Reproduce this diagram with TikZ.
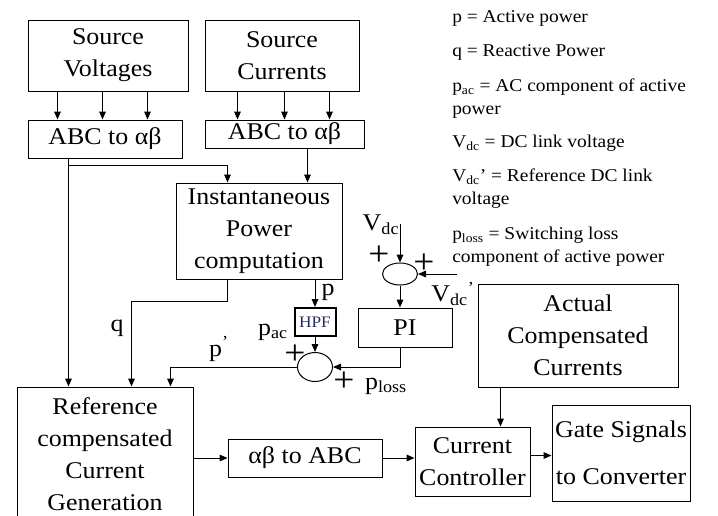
\documentclass[tikz,border=0pt]{standalone}
\usepackage{fontspec}
\setmainfont{Liberation Serif}[FakeStretch=1.08]
\usetikzlibrary{arrows.meta,calc,shapes.geometric}

\newcommand{\blkfont}{\fontsize{18}{24}\selectfont}
\newcommand{\keyfont}{\fontsize{13.5}{17.25}\selectfont}
\newcommand{\pmfont}{\fontsize{26}{26}\selectfont}
\definecolor{hpfblue}{RGB}{35,45,95}

\begin{document}
\begin{tikzpicture}[x=0.75pt,y=-0.75pt,
  blk/.style={draw,line width=0.75pt,inner sep=0pt,align=center,font=\blkfont},
  sum/.style={draw,ellipse,line width=0.75pt,inner sep=0pt},
  sig/.style={-{Triangle[length=6pt,width=5pt]},line width=0.75pt},
  lbl/.style={inner sep=0pt,font=\blkfont},
  pm/.style={inner sep=0pt,font=\pmfont},
  key/.style={anchor=west,inner sep=0pt,align=left,font=\keyfont}]
\useasboundingbox (0,0) rectangle (718,515);

% blocks
\node[blk,minimum width=120pt,minimum height=53.25pt] (srcv) at (108,55.5) {Source\\Voltages};
\node[blk,minimum width=115.5pt,minimum height=53.25pt] (srcc) at (282,55.5) {Source\\Currents};
\node[blk,minimum width=115.5pt,minimum height=28.5pt] (abcv) at (105,139) {ABC to αβ};
\node[blk,minimum width=119.25pt,minimum height=21pt] (abcc) at (284.5,134) {ABC to αβ};
\node[blk,minimum width=124.5pt,minimum height=72pt] (inst) at (259,231) {Instantaneous\\Power\\computation};
\node[blk,line width=1.5pt,minimum width=30.75pt,minimum height=21pt,font=\fontsize{12}{12}\selectfont,text=hpfblue] (hpf) at (315,322) {HPF};
\node[sum,minimum width=26.25pt,minimum height=21.75pt] (sum1) at (315,367) {};
\node[sum,minimum width=26.25pt,minimum height=16.5pt] (sum2) at (400,274) {};
\node[blk,minimum width=70.5pt,minimum height=29.25pt] (pi) at (405,327.5) {PI};
\node[blk,minimum width=132pt,minimum height=101.25pt] (ref) at (105,454.5) {Reference\\compensated\\Current\\Generation};
\node[blk,minimum width=115.5pt,minimum height=28.5pt] (ab2abc) at (305,458) {αβ to ABC};
\node[blk,minimum width=86.25pt,minimum height=51.75pt] (cc) at (472.5,461.5) {Current\\Controller};
\node[blk,minimum width=103.5pt,minimum height=72pt] (gate) at (621,453) {Gate Signals\\[11pt]to Converter};
\node[blk,minimum width=150pt,minimum height=77.25pt] (acc) at (578,335.5) {Actual\\Compensated\\Currents};

\coordinate (vdct) at (400,224);
\coordinate (vdcr) at (457,274);

% three phase lines
\foreach \dx in {30,75,120}
  \draw[sig] ($(srcv.south west)+(\dx,0)$) -- ($(abcv.north west)+(\dx,0)$);
\foreach \dx in {33,80,125}
  \draw[sig] ($(srcc.south west)+(\dx,0)$) -- ($(abcc.north west)+(\dx,0)$);

\draw[sig] ($(abcv.south west)+(41,0)$) -- ($(ref.north west)+(52,0)$);
\draw[sig] ($(abcv.south west)+(41,7)$) -| ($(inst.north west)+(52,0)$);
\draw[sig] ($(abcc.south west)+(103,0)$) -- ($(inst.north west)+(132,0)$);
\draw[sig] ($(inst.south west)+(52,0)$) |- ($(ref.north west)+(115,-85)$) -- ($(ref.north west)+(115,0)$);
\draw[sig] (inst.south -| hpf.north) -- (hpf.north);
\draw[sig] (hpf.south) -- (sum1.north);
\draw[sig] (sum1.west) -| ($(ref.north west)+(154,0)$);
\draw[sig] (vdct) -- (sum2.north);
\draw[sig] (vdcr) -- (sum2.east);
\draw[sig] (sum2.south) -- (sum2.south |- pi.north);
\draw[sig] (pi.south -| sum2.south) |- (sum1.east);
\draw[sig] (ref.east |- ab2abc.west) -- (ab2abc.west);
\draw[sig] (ab2abc.east) -- (ab2abc.east -| cc.west);
\draw[sig] ([yshift=4.5pt]cc.east) -- ([yshift=4.5pt]cc.east -| gate.west);
\draw[sig] ($(acc.south west)+(23,0)$) -- ($(cc.north west)+(86,0)$);

% signal labels
\node[lbl] (q) at (117,328) {q};
\node[lbl] (p) at (328,292) {p};
\node[lbl] (pdash) at (219,349) {p\textsuperscript{’}};
\node[lbl] (pac) at (273,332) {p\textsubscript{ac}};
\node[lbl] (ploss) at (386,386) {p\textsubscript{loss}};
\node[lbl] (vdc) at (381,225) {V\textsubscript{dc}};
\node[lbl] (vdcref) at (453,294) {V\textsubscript{dc}\textsuperscript{’}};
\node[pm] (pm1) at (295,355) {+};
\node[pm] (pm2) at (344,382) {+};
\node[pm] (pm3) at (379,256) {+};
\node[pm] (pm4) at (424,264) {+};

% key
\node[key] (k1) at (452,18) {p = Active power};
\node[key] (k2) at (452,52) {q = Reactive Power};
\node[key] (k3) at (452,98.5) {p\textsubscript{ac} = AC component of active\\power};
\node[key] (k4) at (452,143) {V\textsubscript{dc} = DC link voltage};
\node[key] (k5) at (452,188.5) {V\textsubscript{dc}’ = Reference DC link\\voltage};
\node[key] (k6) at (452,246.5) {p\textsubscript{loss} = Switching loss\\component of active power};
\end{tikzpicture}
\end{document}
